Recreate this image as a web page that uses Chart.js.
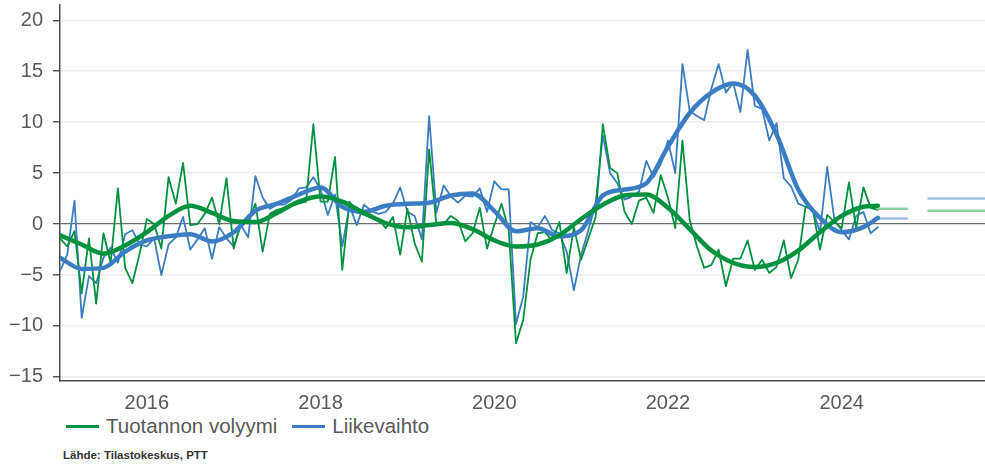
<!DOCTYPE html>
<html>
<head>
<meta charset="utf-8">
<script src="https://cdn.jsdelivr.net/npm/chart.js@4.4.0/dist/chart.umd.min.js"></script>
<style>
  html, body { margin: 0; padding: 0; background: #fff; }
  #wrap { position: relative; width: 985px; height: 464px; overflow: hidden; font-family: "Liberation Sans", Arial, sans-serif; }
  #chart { position: absolute; left: 0; top: 0; }
  .legend { position: absolute; top: 414px; left: 66px; font-size: 20.5px; color: #595959; display: flex; align-items: center; white-space: nowrap; }
  .legend .item { display: flex; align-items: center; margin-right: 15px; }
  .legend .swatch { width: 33px; height: 3px; margin-right: 7px; }
  .source { position: absolute; left: 63px; top: 449px; font-size: 11.5px; font-weight: bold; color: #333; }
</style>
</head>
<body>
<div id="wrap">
  <canvas id="chart" width="985" height="412"></canvas>
  <div class="legend" id="legend"></div>
  <div class="source">Lähde: Tilastokeskus, PTT</div>
</div>
<script>
// kuukausittaiset muutokset (%), tammikuu 2015 -> kesäkuu 2024
const startYear = 2015;
const yearTicks = [2016, 2018, 2020, 2022, 2024];
const yTicks = [-15, -10, -5, 0, 5, 10, 15, 20];

const volyymi = [
    -1.4, -2.2, -0.7, -6.8, -1.4, -7.8, -0.9, -3.8, 3.5, -4.3, -5.8, -2.9,
    0.5, 0.0, -2.4, 4.6, 2.0, 6.0, -0.1, 0.0, 1.0, 2.6, 0.0, 4.5,
    -2.4, 0.2, 0.2, 2.0, -2.7, 1.0, 1.4, 1.6, 1.8, 2.0, 2.2, 9.8,
    2.2, 2.2, 6.6, -4.5, 2.2, 1.2, 0.9, 0.7, 0.5, -0.4, 0.7, -3.0,
    1.5, -1.9, -3.7, 7.3, 0.0, 0.0, 0.8, 0.3, -1.7, -0.9, 1.6, -2.4,
    -0.1, 2.0, -0.6, -11.7, -9.4, -3.5, -0.9, -0.8, -1.6, 0.2, -4.8, -0.3,
    -3.5, -1.4, 0.7, 9.8, 5.5, 5.0, 1.2, 0.0, 2.3, 2.6, 1.1, 4.8,
    2.6, -0.4, 8.2, 0.4, -2.2, -4.3, -4.0, -2.5, -6.1, -3.4, -3.4, -1.6,
    -4.5, -3.5, -4.8, -4.2, -1.6, -5.3, -3.5, 1.7, 1.5, -2.5, 0.9, 0.2,
    -0.4, 4.1, -0.4, 3.6, 1.6, 1.4
];

const liikevaihto = [
    -4.6, -3.0, 2.3, -9.2, -5.1, -5.8, -3.3, -2.3, -3.8, -1.0, -0.6, -2.0,
    -2.2, -1.4, -5.0, -2.0, -1.3, 0.7, -2.5, -1.5, -0.4, -3.4, -0.3, -1.4,
    -2.2, -0.1, -1.3, 4.7, 2.6, 1.5, 1.9, 1.9, 2.4, 3.5, 3.6, 4.6,
    3.4, 0.9, 2.9, -2.2, 1.8, -0.1, 1.9, 1.3, 1.0, 1.2, 2.0, 3.6,
    1.2, 0.8, -1.5, 10.6, 1.1, 3.8, 2.7, 2.1, 2.8, 2.7, 3.5, 1.2,
    4.2, 3.4, 3.4, -9.8, -7.1, 0.2, -0.3, 0.8, -0.6, -0.9, -2.7, -6.5,
    -3.0, -0.6, 2.0, 8.7, 5.0, 4.0, 2.4, 2.7, 3.2, 6.2, 4.6, 5.9,
    8.2, 5.0, 15.7, 11.1, 10.6, 10.2, 13.3, 15.7, 12.9, 13.9, 11.0, 17.1,
    11.6, 11.3, 8.2, 9.9, 4.5, 3.7, 2.0, 1.7, 1.4, -0.8, 5.6, 0.4,
    -0.6, -1.5, 0.8, 1.2, -0.9, -0.3
];

// trendit neljännesvuosittain luettuina (kuukausi-indeksi)
const trendMonths = [0, 3, 6, 9, 12, 15, 18, 21, 24, 27, 30, 33, 36, 39, 42, 45, 48, 51, 54,
    57, 60, 63, 66, 69, 72, 75, 78, 81, 84, 87, 90, 93, 96, 99, 102, 105, 108, 111, 113];
const volyymiTrendi = [-1.1, -2.0, -2.9, -2.1, -0.8, 0.8, 1.8, 1.1, 0.3, 0.2, 1.1, 2.2, 2.7,
    2.2, 1.1, 0.1, -0.3, -0.1, 0.1, -0.5, -1.6, -2.2, -2.0, -1.1, 0.5, 1.9, 2.8, 2.9, 1.6,
    -0.5, -2.6, -3.8, -4.2, -3.8, -2.6, -0.8, 0.8, 1.7, 1.8];
const liikevaihtoTrendi = [-3.3, -4.4, -4.3, -2.7, -1.6, -1.2, -1.0, -1.7, -0.8, 1.3, 2.0, 2.9, 3.6,
    1.7, 1.2, 1.8, 2.0, 2.1, 2.8, 3.0, 1.3, -0.7, -0.4, -1.2, -0.6, 2.8, 3.4, 4.0, 7.6,
    10.9, 12.9, 13.8, 12.6, 8.8, 3.4, 0.6, -0.8, -0.3, 0.6];

// ennusteet 2024 ja 2025
const ennusteJaksot = [[113, 117], [120, 128]];
const volyymiEnnuste = [1.5, 1.3];
const liikevaihtoEnnuste = [0.55, 2.5];

const GREEN = '#00923f';
const BLUE = '#3a7dc2';
const GREEN_LIGHT = '#8ccfa3';
const BLUE_LIGHT = '#9dbfe3';

function monthly(values) {
    return values.map((v, i) => ({ x: i, y: v }));
}

function trend(values) {
    return values.map((v, i) => ({ x: trendMonths[i], y: v }));
}

function forecastSets(values, color) {
    return values.map((v, i) => ({
        data: [{ x: ennusteJaksot[i][0], y: v }, { x: ennusteJaksot[i][1], y: v }],
        borderColor: color,
        borderWidth: 2.5,
        tension: 0
    }));
}

const datasets = [
    { label: 'Tuotannon volyymi trendi', data: trend(volyymiTrendi), borderColor: GREEN, borderWidth: 4.5, cubicInterpolationMode: 'monotone' },
    { label: 'Liikevaihto trendi', data: trend(liikevaihtoTrendi), borderColor: BLUE, borderWidth: 4.5, cubicInterpolationMode: 'monotone' },
    ...forecastSets(volyymiEnnuste, GREEN_LIGHT),
    ...forecastSets(liikevaihtoEnnuste, BLUE_LIGHT),
    { label: 'Tuotannon volyymi', data: monthly(volyymi), borderColor: GREEN, borderWidth: 1.8, tension: 0 },
    { label: 'Liikevaihto', data: monthly(liikevaihto), borderColor: BLUE, borderWidth: 1.8, tension: 0 }
];

const tickFont = { family: '"Liberation Sans", Arial, sans-serif', size: 20 };

new Chart(document.getElementById('chart').getContext('2d'), {
    type: 'line',
    data: { datasets: datasets },
    options: {
        responsive: false,
        animation: false,
        devicePixelRatio: 1,
        layout: { padding: { top: 5, right: 0, left: 0, bottom: 0 } },
        elements: { point: { radius: 0 }, line: { borderJoinStyle: 'round', borderCapStyle: 'round' } },
        plugins: { legend: { display: false }, tooltip: { enabled: false } },
        scales: {
            x: {
                type: 'linear',
                min: 0,
                max: 127.8,
                grid: { display: false, drawTicks: false },
                border: { display: true, color: '#4a4a4a', width: 1.5 },
                ticks: {
                    color: '#595959',
                    font: tickFont,
                    padding: 10,
                    maxRotation: 0,
                    callback: v => String(startYear + v / 12)
                },
                afterBuildTicks: s => { s.ticks = yearTicks.map(y => ({ value: (y - startYear) * 12 })); },
                afterFit: s => { s.height = 31; s.paddingLeft = 0; s.paddingRight = 0; }
            },
            y: {
                min: -15.4,
                max: 21.5,
                grid: {
                    color: c => c.tick && c.tick.value === 0 ? '#6e6e6e' : '#ececec',
                    lineWidth: c => c.tick && c.tick.value === 0 ? 1.3 : 1.5,
                    tickColor: '#555',
                    tickLength: 7
                },
                border: { display: true, color: '#4a4a4a', width: 1.5 },
                ticks: {
                    color: '#595959',
                    font: tickFont,
                    padding: 10,
                    callback: v => String(v).replace('-', '\u2212')
                },
                afterBuildTicks: s => { s.ticks = yTicks.map(v => ({ value: v })); },
                afterFit: s => { s.width = 60; s.paddingTop = 0; s.paddingBottom = 0; }
            }
        }
    }
});

// selite
const legendItems = [['Tuotannon volyymi', GREEN], ['Liikevaihto', BLUE]];
const legendEl = document.getElementById('legend');
legendItems.forEach(([text, color]) => {
    const item = document.createElement('div');
    item.className = 'item';
    const sw = document.createElement('span');
    sw.className = 'swatch';
    sw.style.background = color;
    const label = document.createElement('span');
    label.textContent = text;
    item.appendChild(sw);
    item.appendChild(label);
    legendEl.appendChild(item);
});
</script>
</body>
</html>
